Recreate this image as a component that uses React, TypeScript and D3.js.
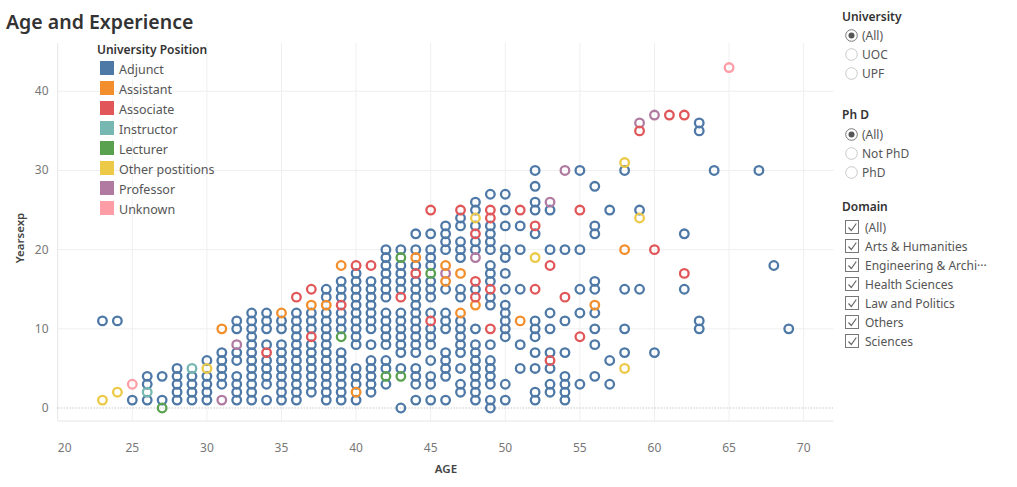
import React from "react";
import * as d3 from "d3";

const positions = ["Adjunct", "Assistant", "Associate", "Instructor", "Lecturer", "Other postitions", "Professor", "Unknown"];
const positionColors = ["#4e79a7", "#f28e2b", "#e15759", "#76b7b2", "#59a14f", "#edc948", "#b07aa1", "#ff9da7"];

// Adjunct: one column of years of experience per age
const adjunctAges = [23, 24, 25, 26, 27, 28, 29, 30, 31, 32, 33, 34, 35, 36, 37, 38, 39, 40, 41, 42, 43, 44, 45, 46, 47, 48, 49, 50, 51, 52, 53, 54, 55, 56, 57, 58, 59, 60, 62, 63, 64, 67, 68, 69];
const adjunctYears = [
  [11], [11], [1], [4, 3, 1], [4, 1], [5, 4, 3, 2, 1], [4, 3, 2, 1], [6, 4, 3, 2, 1], [7, 6, 5, 4, 3],
  [11, 10, 7, 6, 4, 3, 2, 1],
  [12, 11, 10, 9, 8, 7, 6, 5, 4, 3, 2, 1],
  [12, 11, 10, 8, 6, 5, 4, 3, 1],
  [11, 10, 8, 7, 6, 5, 4, 3, 2, 1],
  [12, 11, 10, 9, 8, 7, 6, 5, 4, 3, 2, 1],
  [12, 11, 10, 8, 7, 6, 5, 4, 3, 2],
  [15, 14, 12, 11, 10, 9, 8, 7, 6, 5, 4, 3, 2, 1],
  [16, 15, 14, 12, 11, 10, 7, 6, 5, 4, 3, 2, 1],
  [17, 16, 15, 14, 13, 12, 11, 10, 9, 8, 5, 4, 3, 1],
  [16, 15, 14, 13, 12, 11, 10, 8, 6, 5, 4, 3, 2],
  [20, 19, 18, 17, 16, 15, 14, 12, 11, 10, 9, 8, 6, 5, 3],
  [20, 18, 17, 16, 15, 12, 11, 10, 9, 8, 7, 5, 0],
  [22, 20, 18, 16, 15, 14, 13, 12, 11, 10, 9, 8, 7, 5, 4, 3, 1],
  [22, 20, 19, 18, 16, 15, 14, 12, 10, 9, 8, 6, 4, 3, 1],
  [23, 22, 21, 20, 15, 12, 11, 10, 7, 6, 5, 4, 1],
  [24, 23, 21, 20, 19, 15, 14, 11, 10, 9, 8, 7, 5, 3, 2],
  [26, 25, 23, 21, 20, 15, 10, 8, 7, 6, 5, 4, 3, 2, 1],
  [27, 23, 22, 21, 20, 18, 17, 16, 14, 13, 8, 6, 5, 4, 3, 1, 0],
  [27, 25, 23, 20, 19, 17, 15, 13, 12, 11, 10, 9, 3, 1],
  [23, 20, 15, 8, 5],
  [30, 28, 26, 25, 22, 11, 10, 9, 7, 5, 2, 1],
  [25, 20, 12, 10, 7, 5, 3, 2],
  [20, 11, 7, 4, 3, 2, 1],
  [30, 20, 15, 12, 3],
  [28, 23, 22, 16, 15, 12, 10, 8, 4],
  [25, 6, 3],
  [30, 15, 10, 7],
  [25, 15],
  [7],
  [22, 15],
  [36, 35, 11, 10],
  [30],
  [30],
  [18],
  [10],
];

// Other positions: [age, years of experience]
const assistantPoints = [[31, 10], [35, 12], [37, 13], [38, 13], [39, 18], [40, 2], [44, 19], [46, 18], [46, 16], [47, 17], [47, 12], [48, 13], [51, 11], [56, 13], [58, 20]];
const associatePoints = [[34, 7], [36, 14], [37, 15], [37, 9], [39, 13], [40, 18], [41, 18], [43, 14], [44, 17], [45, 25], [45, 11], [47, 25], [48, 22], [48, 16], [48, 14], [49, 25], [49, 24], [49, 15], [49, 10], [51, 25], [52, 23], [52, 15], [53, 18], [53, 6], [54, 14], [55, 25], [55, 9], [59, 35], [60, 20], [61, 37], [62, 37], [62, 17]];
const instructorPoints = [[26, 2], [29, 5]];
const lecturerPoints = [[27, 0], [43, 19], [43, 4], [45, 17], [39, 9], [42, 4]];
const otherPoints = [[23, 1], [24, 2], [30, 5], [48, 24], [52, 19], [58, 31], [58, 5], [59, 24]];
const professorPoints = [[31, 1], [32, 8], [46, 17], [48, 19], [53, 26], [54, 30], [59, 36], [60, 37]];
const unknownPoints = [[25, 3], [65, 43]];

const xTicks = [20, 25, 30, 35, 40, 45, 50, 55, 60, 65, 70];
const yTicks = [0, 10, 20, 30, 40];

const universityOptions = ["(All)", "UOC", "UPF"];
const phdOptions = ["(All)", "Not PhD", "PhD"];
const domainOptions = ["(All)", "Arts & Humanities", "Engineering & Archi\u00b7\u00b7\u00b7", "Health Sciences", "Law and Politics", "Others", "Sciences"];

const FONT = "'Noto Sans', 'Open Sans', sans-serif";

export default function App() {
  const W = 1017, H = 487;
  const x = d3.scaleLinear().domain([20, 72]).range([57.7, 833.5]);
  const y = d3.scaleLinear().domain([-1.64, 46.1]).range([421, 43]);

  const adjunct = adjunctAges.flatMap((a, i) => adjunctYears[i].map((v) => [a, v]));
  const groups = [
    { c: positionColors[0], pts: adjunct },
    { c: positionColors[6], pts: professorPoints },
    { c: positionColors[5], pts: otherPoints },
    { c: positionColors[4], pts: lecturerPoints },
    { c: positionColors[3], pts: instructorPoints },
    { c: positionColors[1], pts: assistantPoints },
    { c: positionColors[2], pts: associatePoints },
    { c: positionColors[7], pts: unknownPoints },
  ];

  const [x0, x1] = x.range();
  const yTop = 43, yBot = 421;

  return (
    <svg width={W} height={H} style={{ position: "absolute", left: 0, top: 0, background: "#fff" }} fontFamily={FONT}>
      <text x={6} y={29} fontSize={19.5} fontWeight={600} fill="#333">Age and Experience</text>

      {/* grid */}
      {xTicks.filter((t) => t > 20).map((t) => (
        <line key={"gx" + t} x1={x(t)} x2={x(t)} y1={yTop} y2={yBot} stroke="#efefef" strokeWidth={1} />
      ))}
      {yTicks.filter((t) => t > 0).map((t) => (
        <line key={"gy" + t} x1={x0} x2={x1} y1={y(t)} y2={y(t)} stroke="#efefef" strokeWidth={1} />
      ))}
      <line x1={x0} x2={x0} y1={yTop} y2={yBot} stroke="#e6e6e6" />
      <line x1={x0} x2={x1} y1={yBot} y2={yBot} stroke="#e6e6e6" />
      <line x1={x0} x2={x1} y1={y(0)} y2={y(0)} stroke="#aaa" strokeDasharray="1,2" />

      {/* axes labels */}
      {yTicks.map((t) => (
        <text key={"yt" + t} x={48.5} y={y(t) + 4} textAnchor="end" fontSize={12} fill="#777">{t}</text>
      ))}
      {xTicks.map((t) => (
        <text key={"xt" + t} x={t === 20 ? x(t) + 7 : x(t)} y={452} textAnchor="middle" fontSize={12} fill="#777">{t}</text>
      ))}
      <text x={446} y={473} textAnchor="middle" fontSize={11.5} fontWeight={600} fill="#444">AGE</text>
      <text transform={`translate(24,238) rotate(-90)`} textAnchor="middle" fontSize={11.5} fontWeight={600} fill="#444">Yearsexp</text>

      {/* points */}
      {groups.map((g, gi) => (
        <g key={"g" + gi}>
          {g.pts.map((p, i) => (
            <circle key={i} cx={x(p[0])} cy={y(p[1])} r={4.3} fill="none" stroke={g.c} strokeWidth={2.3} />
          ))}
        </g>
      ))}

      {/* legend */}
      <text x={97} y={54} fontSize={12} fontWeight={600} fill="#333">University Position</text>
      {positions.map((p, i) => (
        <g key={"lg" + i}>
          <rect x={100} y={61 + i * 20} width={14} height={14} fill={positionColors[i]} />
          <text x={119} y={74 + i * 20} fontSize={12.5} fill="#555">{p}</text>
        </g>
      ))}

      {/* right panel filters */}
      <text x={842} y={21} fontSize={12} fontWeight={600} fill="#333">University</text>
      {universityOptions.map((o, i) => (
        <g key={"u" + i}>
          <circle cx={851.5} cy={35.5 + i * 19} r={5.8} fill="#fff" stroke={i === 0 ? "#777" : "#c8c8c8"} strokeWidth={1} />
          {i === 0 && <circle cx={851.5} cy={35.5} r={3} fill="#555" />}
          <text x={862} y={40 + i * 19} fontSize={12} fill="#555">{o}</text>
        </g>
      ))}
      <text x={842} y={119} fontSize={12} fontWeight={600} fill="#333">Ph D</text>
      {phdOptions.map((o, i) => (
        <g key={"p" + i}>
          <circle cx={851.5} cy={134.5 + i * 19} r={5.8} fill="#fff" stroke={i === 0 ? "#777" : "#c8c8c8"} strokeWidth={1} />
          {i === 0 && <circle cx={851.5} cy={134.5} r={3} fill="#555" />}
          <text x={862} y={139 + i * 19} fontSize={12} fill="#555">{o}</text>
        </g>
      ))}
      <text x={842} y={211} fontSize={12} fontWeight={600} fill="#333">Domain</text>
      {domainOptions.map((o, i) => (
        <g key={"d" + i}>
          <rect x={845.5} y={220.5 + i * 19} width={13} height={13} fill="#fff" stroke="#777" strokeWidth={1} />
          <path d={`M${848.5},${227.5 + i * 19} l2.8,3 l5,-7`} fill="none" stroke="#666" strokeWidth={1.2} />
          <text x={865} y={231.5 + i * 19} fontSize={12} fill="#555">{o}</text>
        </g>
      ))}
    </svg>
  );
}
